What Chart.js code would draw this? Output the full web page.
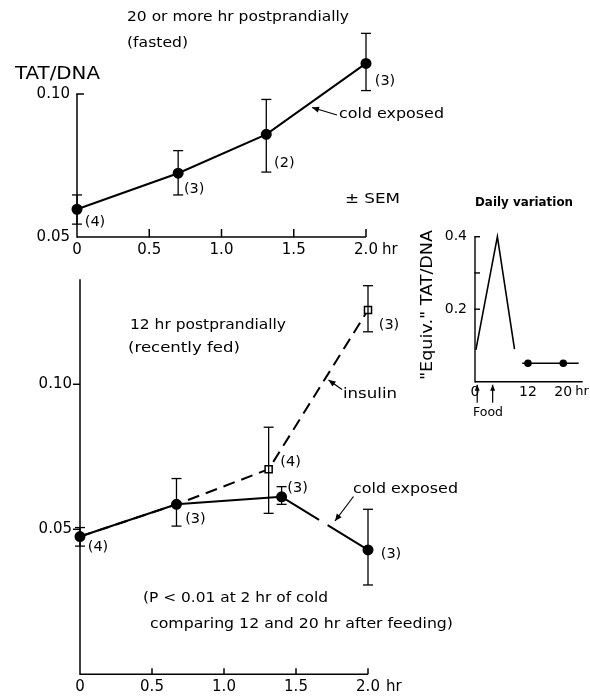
<!DOCTYPE html>
<html><head><meta charset="utf-8">
<script src="https://cdn.jsdelivr.net/npm/chart.js@4"></script>
<style>
html,body{margin:0;padding:0;background:#fff;}
#wrap{position:relative;width:590px;height:698px;background:#fff;}
canvas{position:absolute;left:0;top:0;}
</style></head><body>
<div id="wrap">
<canvas id="cTop" width="590" height="698"></canvas>
<canvas id="cBottom" width="590" height="698"></canvas>
<canvas id="cInset" width="590" height="698"></canvas>
</div>
<script>
// ---------- DATA ----------
// Upper panel: 20 or more hr postprandially (fasted), cold exposed
const fastedHours   = [0, 0.70, 1.31, 2.0];
const fastedTAT     = [0.0597, 0.0723, 0.0859, 0.1107];
const fastedSemHigh = [0.0647, 0.0802, 0.0981, 0.1212];
const fastedSemLow  = [0.0545, 0.0647, 0.0727, 0.1012];
const fastedN       = ['(4)', '(3)', '(2)', '(3)'];

// Lower panel: 12 hr postprandially (recently fed), cold exposed
const fedColdHours   = [0, 0.67, 1.40, 2.0];
const fedColdTAT     = [0.0475, 0.0586, 0.0612, 0.0429];
const fedColdSemHigh = [0.0506, 0.0675, 0.0647, 0.0569];
const fedColdSemLow  = [0.0442, 0.0511, 0.0586, 0.0308];
const fedColdN       = ['(4)', '(3)', '(3)', '(3)'];

// Lower panel: insulin
const fedInsulinHours   = [0, 0.67, 1.31, 2.0];
const fedInsulinTAT     = [0.0475, 0.0586, 0.0707, 0.1256];
const fedInsulinSemHigh = [null, null, 0.0852, 0.1340];
const fedInsulinSemLow  = [null, null, 0.0555, 0.1181];
const fedInsulinN       = [null, null, '(4)', '(3)'];

// Inset: daily variation
const dailyPeakHours = [0.2, 5.07, 8.95];
const dailyPeakTAT   = [0.088, 0.40, 0.09];
const dailyLateHours = [10.7, 12, 20, 23.5];
const dailyLateTAT   = [0.051, 0.051, 0.051, 0.051];
const foodHours      = [0.5, 4.0];

// Tick labels
const hourTicks    = [0, 0.5, 1.0, 1.5, 2.0];
const fastedYTicks = [0.05, 0.10];
const fedYTicks    = [0.05, 0.10];
const dailyXTicks  = [0, 12, 20];
const dailyYTicks  = [0.2, 0.4];
const dailyMinorY  = [0.3];

// ---------- HELPERS ----------
const FONT = '"DejaVu Sans", sans-serif';
Chart.defaults.font.family = FONT;
Chart.defaults.color = '#000';

function seg(ctx,x1,y1,x2,y2){ctx.beginPath();ctx.moveTo(x1,y1);ctx.lineTo(x2,y2);ctx.stroke();}
function arrow(ctx,x1,y1,x2,y2,len,half){
  len=len||7; half=half||3;
  seg(ctx,x1,y1,x2,y2);
  const a=Math.atan2(y2-y1,x2-x1), c=Math.cos(a), s=Math.sin(a);
  ctx.beginPath();
  ctx.moveTo(x2,y2);
  ctx.lineTo(x2-len*c+half*s, y2-len*s-half*c);
  ctx.lineTo(x2-len*c-half*s, y2-len*s+half*c);
  ctx.closePath(); ctx.fill();
}
function txt(ctx,s,x,y,size,o){
  o=o||{};
  ctx.font=(o.weight||'normal')+' '+size+'px '+FONT;
  ctx.textAlign=o.align||'left';
  ctx.textBaseline=o.baseline||'alphabetic';
  ctx.fillText(s,x,y);
}
// text stretched horizontally to a given width (left edge x, baseline y)
function txtFit(ctx,s,x,y,size,width,o){
  o=o||{};
  ctx.save();
  ctx.font=(o.weight||'normal')+' '+size+'px '+FONT;
  ctx.textAlign='left'; ctx.textBaseline='alphabetic';
  const f=width/ctx.measureText(s).width;
  ctx.translate(x,y); ctx.scale(f,1);
  ctx.fillText(s,0,0);
  ctx.restore();
}
function errorBars(ctx,sx,sy,xs,hi,lo,cap){
  for(let i=0;i<xs.length;i++){
    if(hi[i]==null) continue;
    const px=sx.getPixelForValue(xs[i]);
    const a=sy.getPixelForValue(hi[i]), b=sy.getPixelForValue(lo[i]);
    seg(ctx,px,a,px,b); seg(ctx,px-cap,a,px+cap,a); seg(ctx,px-cap,b,px+cap,b);
  }
}
function nLabels(ctx,sx,sy,xs,ys,labels,offs,size){
  for(let i=0;i<xs.length;i++){
    if(!labels[i] || !offs[i]) continue;
    txt(ctx,labels[i],sx.getPixelForValue(xs[i])+offs[i][0],sy.getPixelForValue(ys[i])+offs[i][1],size,{align:'center',baseline:'middle'});
  }
}
function axis(min,max,ticks,fmt,size,pad,horizontal,boxSize){
  return {
    type:'linear', min:min, max:max,
    afterBuildTicks:s=>{s.ticks=ticks.map(v=>({value:v}));},
    afterFit:s=>{ if(horizontal) s.height=boxSize; else s.width=boxSize; },
    grid:{display:false,drawTicks:false}, border:{display:false},
    ticks:{padding:pad,font:{size:size},color:'#000',callback:fmt,autoSkip:false,maxRotation:0,minRotation:0}
  };
}
const fmtHour = v => v===0 ? '0' : v.toFixed(1);
const pts = (xs,ys) => xs.map((x,i)=>({x:x,y:ys[i]}));
// area = [left, top, right, bottom] of the plot area; yW / xH = axis box sizes
function baseOptions(area,yW,xH,scales){
  return {
    responsive:false, animation:false, events:[],
    plugins:{legend:{display:false},tooltip:{enabled:false}},
    layout:{padding:{left:area[0]-yW,top:area[1],right:590-area[2],bottom:698-area[3]-xH}},
    scales:scales
  };
}

// ---------- UPPER PANEL ----------
const decorTop = {id:'decorTop', afterDatasetsDraw(chart){
  const ctx=chart.ctx, sx=chart.scales.x, sy=chart.scales.y;
  ctx.save(); ctx.strokeStyle='#000'; ctx.fillStyle='#000'; ctx.lineWidth=1.5;
  const x0=sx.getPixelForValue(0), yb=sy.getPixelForValue(0.05), yt=sy.getPixelForValue(0.10);
  seg(ctx,x0,yb,sx.getPixelForValue(2),yb);
  seg(ctx,x0,yb+0.75,x0,yt);
  seg(ctx,x0-0.75,yt,x0+7,yt);
  hourTicks.slice(1).forEach(h=>{const p=sx.getPixelForValue(h); seg(ctx,p,yb,p,yb-8);});
  ctx.lineWidth=1.3;
  errorBars(ctx,sx,sy,fastedHours,fastedSemHigh,fastedSemLow,5);
  nLabels(ctx,sx,sy,fastedHours,fastedTAT,fastedN,[[18,13],[16,16],[18,29],[19,18]],14.5);
  txt(ctx,'hr',sx.getPixelForValue(2)+16,yb+13,15,{baseline:'middle'});
  txtFit(ctx,'TAT/DNA',15,79,18,85);
  txtFit(ctx,'20 or more hr postprandially',127,21,13.5,222);
  txtFit(ctx,'(fasted)',127,47,13.5,61);
  txtFit(ctx,'cold exposed',339,118,14,105);
  ctx.lineWidth=1.2;
  arrow(ctx,337,115,312,107.5,7,3);
  txtFit(ctx,'\u00B1 SEM',345,203,14,55);
  ctx.restore();
}};

new Chart(document.getElementById('cTop'),{
  type:'line',
  data:{datasets:[{
    data:pts(fastedHours,fastedTAT), borderColor:'#000', borderWidth:2,
    pointRadius:4.5, pointBackgroundColor:'#000', pointBorderColor:'#000', tension:0, clip:false
  }]},
  options:baseOptions([77,22.5,366,237],70,30,{
    x:axis(0,2,hourTicks,fmtHour,15,4,true,30),
    y:axis(0.05,0.125,fastedYTicks,v=>v.toFixed(2),15,7,false,70)
  }),
  plugins:[decorTop]
});

// ---------- LOWER PANEL ----------
const decorBottom = {id:'decorBottom', afterDatasetsDraw(chart){
  const ctx=chart.ctx, sx=chart.scales.x, sy=chart.scales.y;
  ctx.save(); ctx.strokeStyle='#000'; ctx.fillStyle='#000'; ctx.lineWidth=1.5;
  const x0=sx.getPixelForValue(0), yb=sy.getPixelForValue(0);
  seg(ctx,x0,yb,sx.getPixelForValue(2),yb);
  seg(ctx,x0,yb+0.75,x0,chart.chartArea.top);
  fedYTicks.forEach(v=>{const p=sy.getPixelForValue(v); seg(ctx,x0-7,p,x0,p);});
  hourTicks.slice(1).forEach(h=>{const p=sx.getPixelForValue(h); seg(ctx,p,yb,p,yb-6);});
  ctx.lineWidth=1.3;
  errorBars(ctx,sx,sy,fedColdHours,fedColdSemHigh,fedColdSemLow,5);
  errorBars(ctx,sx,sy,fedInsulinHours,fedInsulinSemHigh,fedInsulinSemLow,5);
  nLabels(ctx,sx,sy,fedColdHours,fedColdTAT,fedColdN,[[18,11],[19,15],[16,-9],[23,4]],14.5);
  nLabels(ctx,sx,sy,fedInsulinHours,fedInsulinTAT,fedInsulinN,[null,null,[22,-7],[21,15]],14.5);
  txt(ctx,'hr',sx.getPixelForValue(2)+18,yb+13,15,{baseline:'middle'});
  txtFit(ctx,'12 hr postprandially',130,329,13.5,156);
  txtFit(ctx,'(recently fed)',128,352,13.5,112);
  txtFit(ctx,'insulin',343,398,14,54);
  txtFit(ctx,'cold exposed',353,493,14,105);
  txtFit(ctx,'(P < 0.01 at 2 hr of cold',143,602,13.5,185);
  txtFit(ctx,'comparing 12 and 20 hr after feeding)',150,628,13.5,303);
  ctx.lineWidth=1.2;
  arrow(ctx,342,389.5,328.5,380,7,3);
  arrow(ctx,353.5,496.5,335,521,7,3);
  ctx.restore();
}};

new Chart(document.getElementById('cBottom'),{
  type:'line',
  data:{datasets:[
    {
      data:pts(fedColdHours,fedColdTAT), borderColor:'#000', borderWidth:2,
      pointRadius:4.5, pointBackgroundColor:'#000', pointBorderColor:'#000', tension:0, clip:false, order:1,
      segment:{borderDash:c=>c.p0DataIndex===2?[44,10,400]:undefined}
    },
    {
      data:pts(fedInsulinHours,fedInsulinTAT), borderColor:'#000', borderWidth:2, borderDash:[12,7],
      pointStyle:'rect', pointRadius:c=>c.dataIndex>=2?5:0, pointBackgroundColor:'#fff', pointBorderColor:'#000',
      pointBorderWidth:1.5, tension:0, clip:false, order:2
    }
  ]},
  options:baseOptions([80,279.3,368,674.3],70,23.7,{
    x:axis(0,2,hourTicks,fmtHour,15,4,true,23.7),
    y:axis(0,0.1362,fedYTicks,v=>v.toFixed(2),15,8,false,70)
  }),
  plugins:[decorBottom]
});

// ---------- INSET ----------
const decorInset = {id:'decorInset', afterDatasetsDraw(chart){
  const ctx=chart.ctx, sx=chart.scales.x, sy=chart.scales.y;
  ctx.save(); ctx.strokeStyle='#000'; ctx.fillStyle='#000'; ctx.lineWidth=1.4;
  const x0=sx.getPixelForValue(0), yb=sy.getPixelForValue(0);
  seg(ctx,x0,yb,chart.chartArea.right,yb);
  seg(ctx,x0,yb+0.7,x0,sy.getPixelForValue(0.4));
  dailyYTicks.concat(dailyMinorY).forEach(v=>{const p=sy.getPixelForValue(v); seg(ctx,x0-0.7,p,x0+5,p);});
  ctx.lineWidth=1.2;
  foodHours.forEach(h=>{const p=sx.getPixelForValue(h); arrow(ctx,p,yb+21,p,yb+3,6,2.5);});
  txt(ctx,'hr',sx.getPixelForValue(20)+12,yb+10,13,{baseline:'middle'});
  txtFit(ctx,'Food',473,416,13,30);
  txtFit(ctx,'Daily variation',475,206,11.5,98,{weight:'bold'});
  ctx.translate(432,305); ctx.rotate(-Math.PI/2);
  txtFit(ctx,'"Equiv." TAT/DNA',-75,0,15,150);
  ctx.restore();
}};

new Chart(document.getElementById('cInset'),{
  type:'line',
  data:{datasets:[
    {data:pts(dailyPeakHours,dailyPeakTAT), borderColor:'#000', borderWidth:1.6, pointRadius:0, tension:0, clip:false},
    {data:pts(dailyLateHours,dailyLateTAT), borderColor:'#000', borderWidth:1.6, tension:0, clip:false,
     pointRadius:c=>(c.dataIndex===1||c.dataIndex===2)?3:0, pointBackgroundColor:'#000', pointBorderColor:'#000'}
  ]},
  options:baseOptions([475,236.7,582.7,381.7],40,22,{
    x:axis(0,24.4,dailyXTicks,v=>String(v),14,2,true,22),
    y:axis(0,0.4,dailyYTicks,v=>v.toFixed(1),14,8,false,40)
  }),
  plugins:[decorInset]
});
</script>
</body></html>
